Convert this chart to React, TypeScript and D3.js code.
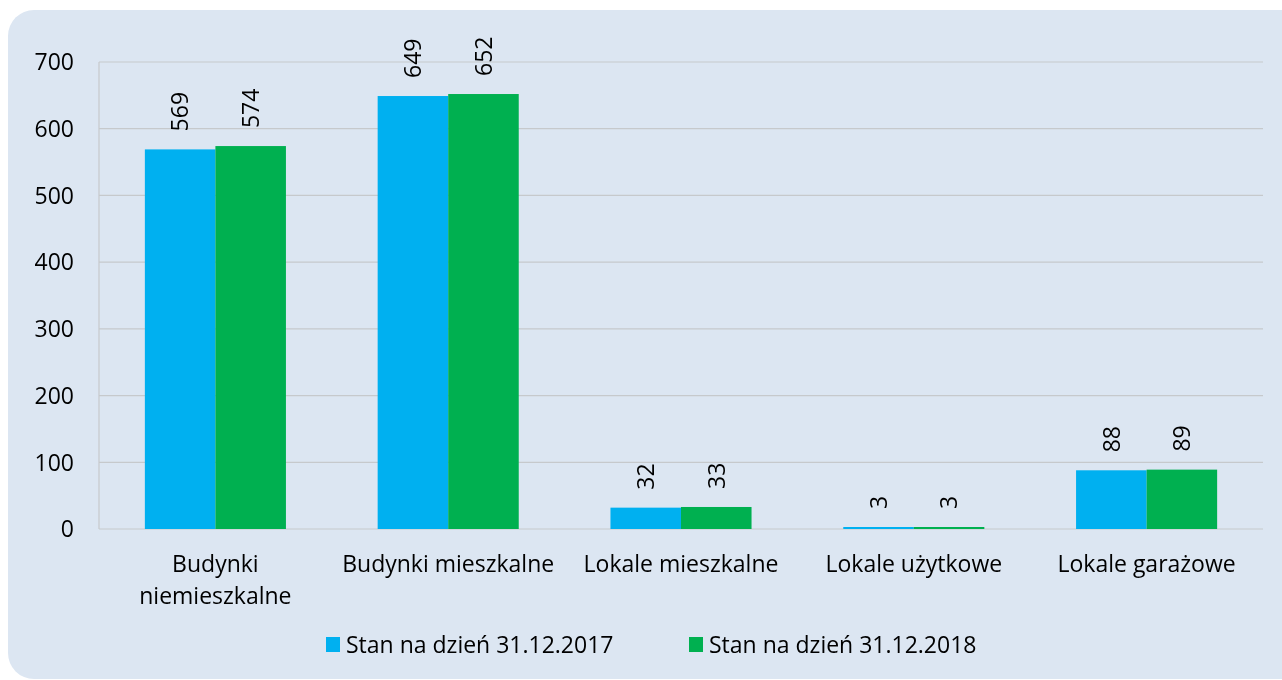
import React from "react"
import * as d3 from "d3"

// chart data
const categories = [
  ["Budynki", "niemieszkalne"],
  ["Budynki mieszkalne"],
  ["Lokale mieszkalne"],
  ["Lokale użytkowe"],
  ["Lokale garażowe"],
]
const series2017 = [569, 649, 32, 3, 88]
const series2018 = [574, 652, 33, 3, 89]
const seriesNames = ["Stan na dzień 31.12.2017", "Stan na dzień 31.12.2018"]
const seriesColors = ["#00B0F0", "#00B050"]
const yTicks = [0, 100, 200, 300, 400, 500, 600, 700]

const W = 1282
const H = 680
const margin = { top: 62, right: 19, bottom: 151, left: 99 }
const FONT = "'Open Sans', 'Noto Sans', sans-serif"
const FS = 23

const App: React.FC = () => {
  const innerW = W - margin.left - margin.right
  const innerH = H - margin.top - margin.bottom

  const x0 = d3.scaleBand<number>()
    .domain(d3.range(categories.length))
    .range([0, innerW])
    .paddingInner(0.394)
    .paddingOuter(0.197)

  const x1 = d3.scaleBand<number>()
    .domain([0, 1])
    .range([0, x0.bandwidth()])

  const y = d3.scaleLinear().domain([0, 700]).range([innerH, 0])

  const allSeries = [series2017, series2018]

  return (
    <svg width={W} height={H} style={{ position: "fixed", left: 0, top: 0 }} fontFamily={FONT}>
      <rect x={8} y={10} width={1310} height={669} rx={26} fill="#DCE6F2" />
      <g transform={`translate(${margin.left}, ${margin.top})`}>
        {/* gridlines */}
        {yTicks.map(t => (
          <line key={t} x1={0} x2={innerW} y1={y(t)} y2={y(t)} stroke="#C6C9CC" strokeWidth={1.2} />
        ))}
        <line x1={0} x2={0} y1={0} y2={innerH} stroke="#C6C9CC" strokeWidth={1.2} />

        {/* y tick labels */}
        {yTicks.map(t => (
          <text key={"l" + t} x={-25} y={y(t)} dy="0.36em" textAnchor="end" fontSize={FS} fill="#000">{t}</text>
        ))}

        {/* bars */}
        {allSeries.map((vals, si) => (
          <g key={si}>
            {vals.map((v, ci) => {
              const bx = (x0(ci) || 0) + (x1(si) || 0)
              return (
                <rect key={ci} x={bx} y={y(v)} width={x1.bandwidth()} height={innerH - y(v)} fill={seriesColors[si]} />
              )
            })}
          </g>
        ))}

        {/* data labels, rotated */}
        {allSeries.map((vals, si) => (
          <g key={"d" + si}>
            {vals.map((v, ci) => {
              const cx = (x0(ci) || 0) + (x1(si) || 0) + x1.bandwidth() / 2
              const ty = y(v) - 18
              return (
                <text key={ci} transform={`translate(${cx}, ${ty}) rotate(-90)`} dy="0.36em" textAnchor="start" fontSize={FS} fill="#000">{v}</text>
              )
            })}
          </g>
        ))}

        {/* category labels */}
        {categories.map((lines, ci) => {
          const cx = (x0(ci) || 0) + x0.bandwidth() / 2
          return (
            <text key={ci} x={cx} y={innerH + 43} textAnchor="middle" fontSize={FS} fill="#000">
              {lines.map((l, li) => (
                <tspan key={li} x={cx} dy={li === 0 ? 0 : 32}>{l}</tspan>
              ))}
            </text>
          )
        })}
      </g>

      {/* legend */}
      <g transform="translate(326, 637)">
        {seriesNames.map((name, i) => (
          <g key={i} transform={`translate(${i * 363}, 0)`}>
            <rect x={0} y={0} width={14} height={15} fill={seriesColors[i]} />
            <text x={20} y={16} fontSize={FS} fill="#000">{name}</text>
          </g>
        ))}
      </g>
    </svg>
  )
}

export default App
